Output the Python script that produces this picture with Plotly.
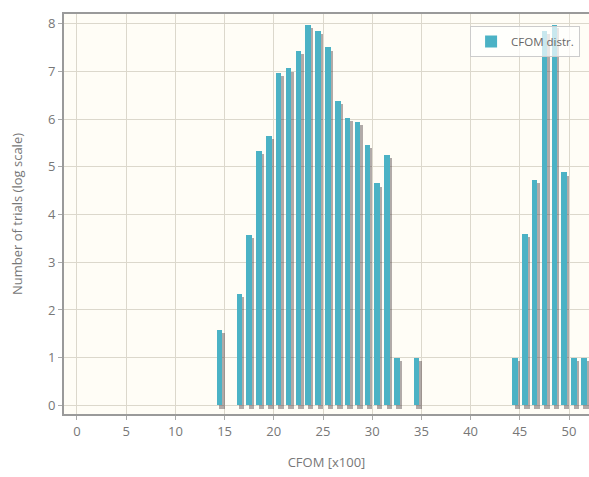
import plotly.graph_objects as go

# CFOM distribution histogram (bin centres in units of 100, counts on log scale)
bin_centers = [14.5, 16.5, 17.5, 18.5, 19.5, 20.5, 21.5, 22.5, 23.5, 24.5,
               25.5, 26.5, 27.5, 28.5, 29.5, 30.5, 31.5, 32.5, 34.5,
               44.5, 45.5, 46.5, 47.5, 48.5, 49.5, 50.5, 51.5]
log_trials = [1.59, 2.33, 3.58, 5.33, 5.65, 6.97, 7.06, 7.42, 7.98, 7.85,
              7.50, 6.37, 6.02, 5.93, 5.45, 4.65, 5.25, 1.00, 1.00,
              1.00, 3.60, 4.72, 7.85, 7.97, 4.88, 1.00, 1.00]

x_ticks = [0, 5, 10, 15, 20, 25, 30, 35, 40, 45, 50]
y_ticks = [0, 1, 2, 3, 4, 5, 6, 7, 8]

BAR_COLOR = "#4bb2c5"
FONT = "Open Sans, DejaVu Sans, sans-serif"
BAR_W = 0.56
SHADOW_DX = 0.24
SHADOW_DY = 0.065

fig = go.Figure()

# drop shadow behind each bar, shifted right and down
fig.add_trace(go.Bar(
    x=bin_centers,
    y=[v for v in log_trials],
    base=-SHADOW_DY,
    width=BAR_W,
    offset=-BAR_W / 2 + SHADOW_DX,
    marker=dict(color="rgba(70,55,60,0.42)", line=dict(width=0)),
    showlegend=False,
    hoverinfo="skip",
))

fig.add_trace(go.Bar(
    x=bin_centers,
    y=log_trials,
    width=BAR_W,
    offset=-BAR_W / 2,
    name="CFOM distr.",
    marker=dict(color=BAR_COLOR, line=dict(width=0)),
))

fig.update_layout(
    width=589, height=477,
    margin=dict(l=64, r=0, t=14, b=63),
    paper_bgcolor="white",
    plot_bgcolor="#fffdf6",
    barmode="overlay",
    bargap=0,
    font=dict(family=FONT, size=13, color="#777777"),
    legend=dict(
        x=0.983, y=0.97, xanchor="right", yanchor="top",
        bgcolor="rgba(255,255,255,0.7)",
        bordercolor="#cccccc", borderwidth=1,
        font=dict(size=11.5, color="#666666"),
        itemwidth=30,
    ),
    xaxis=dict(
        range=[-1.32, 52.03],
        tickvals=x_ticks,
        ticktext=[str(t) for t in x_ticks],
        showgrid=True, gridcolor="#dcd8cc", gridwidth=1,
        zeroline=False,
        showline=True, linecolor="#9a9a9a", linewidth=2, mirror=True,
        ticks="outside", ticklen=4, tickcolor="#aaaaaa",
        title=dict(text="CFOM [x100]", font=dict(size=13, color="#777777"), standoff=19),
        tickfont=dict(size=13, color="#777777"),
    ),
    yaxis=dict(
        range=[-0.18, 8.2],
        tickvals=y_ticks,
        ticktext=[str(t) for t in y_ticks],
        showgrid=True, gridcolor="#dcd8cc", gridwidth=1,
        zeroline=False,
        showline=True, linecolor="#9a9a9a", linewidth=2,
        ticks="outside", ticklen=4, tickcolor="#aaaaaa",
        title=dict(text="Number of trials (log scale)", font=dict(size=13, color="#777777"), standoff=22),
        tickfont=dict(size=13, color="#777777"),
    ),
)

fig.write_html("out.html")
